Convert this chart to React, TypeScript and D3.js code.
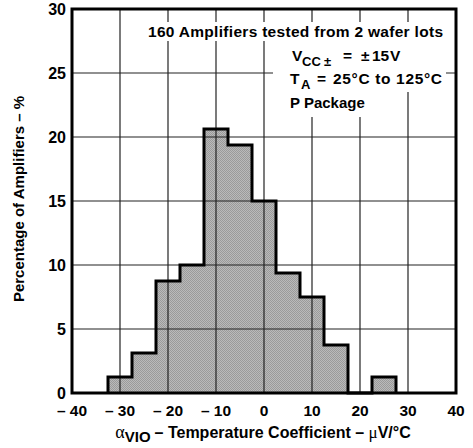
import React from "react";
import * as d3 from "d3";

// Histogram data: bin centers (µV/°C) and percentage of amplifiers
const binCenters = [-30, -25, -20, -15, -10, -5, 0, 5, 10, 15, 20, 25];
const percentages = [1.25, 3.125, 8.75, 10, 20.625, 19.375, 15, 9.375, 7.5, 3.75, 0, 1.25];
const binWidth = 5;
const xTicks = [-40, -30, -20, -10, 0, 10, 20, 30, 40];
const yTicks = [0, 5, 10, 15, 20, 25, 30];

const W = 473;
const H = 448;
const M = { left: 72, right: 17, top: 9, bottom: 55 };
const FONT = "'Liberation Sans', Arial, Helvetica, sans-serif";
const SERIF = "'Liberation Serif', 'Times New Roman', serif";

export default function App() {
  const x = d3.scaleLinear().domain([-40, 40]).range([M.left, W - M.right]);
  const y = d3.scaleLinear().domain([0, 30]).range([H - M.bottom, M.top]);

  const pts: [number, number][] = [];
  const firstX0 = binCenters[0] - binWidth / 2;
  pts.push([x(firstX0), y(0)]);
  binCenters.forEach((c, i) => {
    pts.push([x(c - binWidth / 2), y(percentages[i])]);
    pts.push([x(c + binWidth / 2), y(percentages[i])]);
  });
  pts.push([x(binCenters[binCenters.length - 1] + binWidth / 2), y(0)]);
  const outline = d3.line()(pts) as string;
  const fillPath = outline + "Z";

  const fmt = (v: number) => (v < 0 ? `\u2013 ${Math.abs(v)}` : `${v}`);
  const txt = { fontFamily: FONT, fontWeight: "bold" as const };

  return (
    <svg width={W} height={H} style={{ display: "block", position: "absolute", left: 0, top: 0, background: "#fff" }}>
      <defs>
        <pattern id="stip" width="2" height="2" patternUnits="userSpaceOnUse">
          <rect width="2" height="2" fill="#bababa" />
          <rect x="0" y="0" width="1" height="1" fill="#9a9a9a" />
          <rect x="1" y="1" width="1" height="1" fill="#9a9a9a" />
        </pattern>
      </defs>
      <rect x={0} y={0} width={W} height={H} fill="#fff" />
      {/* histogram fill */}
      <path d={fillPath} fill="url(#stip)" stroke="none" />
      {/* grid */}
      {xTicks.slice(1, -1).map((t) => (
        <line key={"gx" + t} x1={x(t)} x2={x(t)} y1={y(30)} y2={y(0)} stroke="#222" strokeWidth={1.2} />
      ))}
      {yTicks.slice(1, -1).map((t) => (
        <line key={"gy" + t} x1={x(-40)} x2={x(40)} y1={y(t)} y2={y(t)} stroke="#222" strokeWidth={1.2} />
      ))}
      {/* annotation backgrounds */}
      <rect x={140} y={22} width={308} height={19} fill="#fff" />
      <rect x={273} y={41} width={173} height={51} fill="#fff" />
      <rect x={285} y={92} width={113} height={25} fill="#fff" />
      {/* histogram outline */}
      <path d={outline} fill="none" stroke="#000" strokeWidth={3} strokeLinejoin="miter" />
      {/* frame */}
      <rect x={x(-40)} y={y(30)} width={x(40) - x(-40)} height={y(0) - y(30)} fill="none" stroke="#000" strokeWidth={3} />
      {/* y ticks */}
      {yTicks.map((t) => (
        <text key={"yt" + t} x={66} y={y(t)} dy="0.36em" textAnchor="end" {...txt} fontSize={16}>
          {t}
        </text>
      ))}
      {/* x ticks */}
      {xTicks.map((t) => (
        <text key={"xt" + t} x={x(t)} y={416} textAnchor="middle" {...txt} fontSize={15.5}>
          {fmt(t)}
        </text>
      ))}
      {/* axis titles */}
      <text x={263} y={438} textAnchor="middle" {...txt} fontSize={16}>
        <tspan fontFamily={SERIF} fontWeight="normal" fontSize={18}>α</tspan>
        <tspan dy={4} fontSize={15}>VIO</tspan>
        <tspan dy={-4} dx={4}>– Temperature Coefficient – </tspan>
        <tspan fontFamily={SERIF} fontWeight="normal" fontSize={17}>μ</tspan>
        <tspan>V/°C</tspan>
      </text>
      <text transform={`translate(24,199) rotate(-90)`} textAnchor="middle" {...txt} fontSize={15}>
        Percentage of Amplifiers – %
      </text>
      {/* annotations */}
      <text x={148} y={37} {...txt} fontSize={15.5} textLength={295} lengthAdjust="spacing">
        160 Amplifiers tested from 2 wafer lots
      </text>
      <text x={292} y={61} {...txt} fontSize={15.5}>V</text>
      <text x={302} y={66} {...txt} fontSize={13}>CC</text>
      <text x={324} y={66} {...txt} fontSize={13}>±</text>
      <text x={343} y={61} {...txt} fontSize={15.5}>=</text>
      <text x={361} y={61} {...txt} fontSize={15.5}>±</text>
      <text x={372} y={61} {...txt} fontSize={15.5}>15</text>
      <text x={390} y={61} {...txt} fontSize={15.5}>V</text>
      <text x={290} y={84} {...txt} fontSize={15.5}>T</text>
      <text x={301} y={89} {...txt} fontSize={13}>A</text>
      <text x={317} y={84} {...txt} fontSize={15.5}>=</text>
      <text x={333} y={84} {...txt} fontSize={15.5} textLength={109} lengthAdjust="spacing">25°C to 125°C</text>
      <text x={290} y={108} {...txt} fontSize={15}>P Package</text>
    </svg>
  );
}
